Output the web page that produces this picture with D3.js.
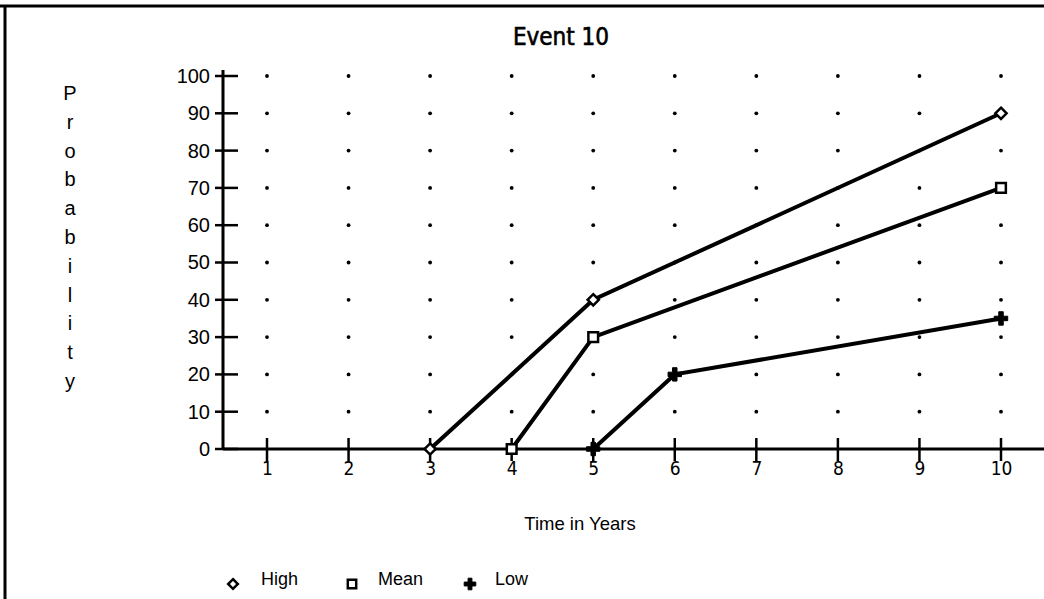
<!DOCTYPE html>
<html><head><meta charset="utf-8">
<script src="https://cdn.jsdelivr.net/npm/d3@7"></script>
<style>body{margin:0;background:#fff}svg{display:block}</style>
</head><body>
<svg id="c" width="1044" height="599"></svg>
<script>
const years = [1,2,3,4,5,6,7,8,9,10];
const yTicks = [0,10,20,30,40,50,60,70,80,90,100];
const highX = [3,5,10], highY = [0,40,90];
const meanX = [4,5,10], meanY = [0,30,70];
const lowX = [5,6,10], lowY = [0,20,35];
const title = "Event 10";
const xLabel = "Time in Years";
const yLabel = "Probability";
const legendNames = ["High","Mean","Low"];

const svg = d3.select("#c");
const x = d3.scaleLinear().domain([1,10]).range([267,1001]);
const y = d3.scaleLinear().domain([0,100]).range([449,76]);
const axisLeftX = 223;

// frame
svg.append("line").attr("x1",0).attr("x2",1044).attr("y1",6).attr("y2",6).attr("stroke","#000").attr("stroke-width",3);
svg.append("line").attr("x1",5).attr("x2",5).attr("y1",5).attr("y2",599).attr("stroke","#000").attr("stroke-width",3);

// title
svg.append("text").attr("x",561).attr("y",45).attr("text-anchor","middle")
  .attr("font-family","DejaVu Sans Condensed, DejaVu Sans").attr("font-size",24)
  .attr("stroke","#000").attr("stroke-width",0.6).text(title);

// grid dots
const pts = [];
years.forEach(a => yTicks.filter(v=>v>0).forEach(b => pts.push([a,b])));
svg.append("g").selectAll("circle").data(pts).join("circle")
  .attr("cx",d=>x(d[0])).attr("cy",d=>y(d[1])).attr("r",1.9).attr("fill","#000");

// y axis
const yAx = svg.append("g").attr("transform",`translate(${axisLeftX},0)`)
  .call(d3.axisLeft(y).tickValues(yTicks).tickSize(0).tickPadding(13));
yAx.select(".domain").remove();
yAx.selectAll("text").attr("font-family","Liberation Sans, Arial").attr("font-size",20).attr("fill","#000");
svg.append("line").attr("x1",axisLeftX).attr("x2",axisLeftX).attr("y1",y(100)-6).attr("y2",y(0)).attr("stroke","#000").attr("stroke-width",3);
svg.append("g").selectAll("line").data(yTicks).join("line")
  .attr("x1",axisLeftX-8).attr("x2",axisLeftX+15).attr("y1",d=>y(d)).attr("y2",d=>y(d)).attr("stroke","#000").attr("stroke-width",2.5);

// x axis
svg.append("line").attr("x1",axisLeftX).attr("x2",1044).attr("y1",y(0)).attr("y2",y(0)).attr("stroke","#000").attr("stroke-width",3);
const xAx = svg.append("g").attr("transform",`translate(0,${y(0)})`)
  .call(d3.axisBottom(x).tickValues(years).tickSize(0).tickPadding(13));
xAx.select(".domain").remove();
xAx.selectAll("text").attr("font-family","DejaVu Sans Condensed, DejaVu Sans").attr("font-size",19).attr("fill","#000");
svg.append("g").selectAll("line").data(years).join("line")
  .attr("x1",d=>x(d)).attr("x2",d=>x(d)).attr("y1",y(0)-11).attr("y2",y(0)+12).attr("stroke","#000").attr("stroke-width",2.5);

// axis labels
svg.append("text").attr("x",580).attr("y",530).attr("text-anchor","middle")
  .attr("font-family","Liberation Sans, Arial").attr("font-size",18.5).text(xLabel);
svg.append("g").selectAll("text").data(yLabel.split("")).join("text")
  .attr("x",70).attr("y",(d,i)=>100+i*28.8).attr("text-anchor","middle")
  .attr("font-family","Liberation Sans, Arial").attr("font-size",20).text(d=>d);

// series
const line = d3.line().x(d=>x(d[0])).y(d=>y(d[1]));
const series = [
  {name:legendNames[0], data: highX.map((v,i)=>[v,highY[i]]), sym:d3.symbolDiamond2, size:80, fill:"#fff"},
  {name:legendNames[1], data: meanX.map((v,i)=>[v,meanY[i]]), sym:d3.symbolSquare2, size:120, fill:"#fff"},
  {name:legendNames[2], data: lowX.map((v,i)=>[v,lowY[i]]), sym:d3.symbolCross, size:100, fill:"#000"}
];
series.forEach(s=>{
  svg.append("path").datum(s.data).attr("d",line).attr("fill","none").attr("stroke","#000").attr("stroke-width",4);
});
series.forEach(s=>{
  svg.append("g").selectAll("path").data(s.data).join("path")
    .attr("transform",d=>`translate(${x(d[0])},${y(d[1])})`)
    .attr("d",d3.symbol(s.sym,s.size))
    .attr("fill",s.fill).attr("stroke","#000").attr("stroke-width",s.fill==="#000"?1:2.5);
});

// legend
const legX = [233,352,470], legTX = [261,378,495];
series.forEach((s,i)=>{
  svg.append("path").attr("transform",`translate(${legX[i]},${584})`)
    .attr("d",d3.symbol(s.sym,s.size*0.75)).attr("fill",s.fill).attr("stroke","#000").attr("stroke-width",s.fill==="#000"?1:2.5);
  svg.append("text").attr("x",legTX[i]).attr("y",585).attr("font-family","Liberation Sans, Arial").attr("font-size",18).text(s.name);
});
</script>
</body></html>
